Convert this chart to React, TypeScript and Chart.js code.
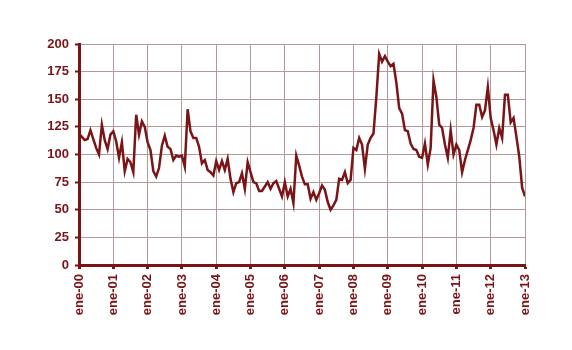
import React, { useEffect, useRef } from "react";
import { Chart, registerables } from "chart.js";

Chart.register(...registerables);

const yearLabels = [
  "ene-00", "ene-01", "ene-02", "ene-03", "ene-04", "ene-05", "ene-06",
  "ene-07", "ene-08", "ene-09", "ene-10", "ene-11", "ene-12", "ene-13",
];

const y2000 = [119, 116, 113, 114, 122, 114, 106, 100, 127, 113, 105, 118];
const y2001 = [121, 112, 97, 111, 85, 96, 93, 84, 136, 118, 130, 125];
const y2002 = [111, 104, 85, 80, 88, 108, 117, 107, 105, 95, 99, 98];
const y2003 = [99, 89, 141, 121, 115, 115, 107, 92, 95, 86, 84, 81];
const y2004 = [94, 86, 94, 86, 96, 78, 66, 74, 75, 83, 69, 93];
const y2005 = [84, 75, 74, 67, 67, 71, 75, 69, 74, 76, 69, 62];
const y2006 = [75, 62, 69, 56, 99, 90, 80, 73, 73, 60, 66, 59];
const y2007 = [65, 72, 68, 57, 50, 54, 59, 78, 77, 84, 74, 77];
const y2008 = [106, 104, 115, 109, 87, 109, 115, 119, 152, 191, 184, 189];
const y2009 = [184, 180, 182, 165, 142, 137, 122, 121, 110, 105, 104, 98];
const y2010 = [97, 110, 91, 106, 167, 152, 127, 124, 109, 97, 122, 100];
const y2011 = [109, 104, 84, 95, 104, 113, 124, 145, 145, 134, 140, 161];
const y2012 = [133, 122, 109, 124, 115, 154, 154, 129, 133, 116, 98, 70];
const y2013 = [62];

const values = [
  ...y2000, ...y2001, ...y2002, ...y2003, ...y2004, ...y2005, ...y2006,
  ...y2007, ...y2008, ...y2009, ...y2010, ...y2011, ...y2012, ...y2013,
];

const DARK = "#7a1416";
const GRID = "#b39a9a";

export default function App() {
  const ref = useRef<HTMLCanvasElement | null>(null);

  useEffect(() => {
    document.body.style.margin = "0";
    if (!ref.current) return;
    const chart = new Chart(ref.current, {
      type: "line",
      data: {
        datasets: [
          {
            data: values.map((v, i) => ({ x: i, y: v })),
            borderColor: DARK,
            borderWidth: 2.5,
            pointRadius: 0,
            tension: 0,
            fill: false,
          },
        ],
      },
      options: {
        animation: false,
        responsive: false,
        maintainAspectRatio: false,
        layout: { padding: { left: 0, right: 47, top: 44, bottom: 0 } },
        plugins: { legend: { display: false }, tooltip: { enabled: false } },
        scales: {
          x: {
            type: "linear",
            min: 0,
            max: (yearLabels.length - 1) * 12,
            afterFit: (s: any) => {
              s.height = 85;
            },
            afterBuildTicks: (s: any) => {
              s.ticks = yearLabels.map((_, i) => ({ value: i * 12 }));
            },
            ticks: {
              autoSkip: false,
              minRotation: 90,
              maxRotation: 90,
              padding: 5,
              color: DARK,
              font: { family: "Liberation Sans, Arial, sans-serif", size: 13, weight: "bold" },
              callback: (v: any) => yearLabels[Math.round(Number(v) / 12)] ?? "",
            },
            grid: {
              color: GRID,
              lineWidth: 1,
              tickLength: 4,
              tickColor: DARK,
              tickWidth: 3,
            },
            border: { color: DARK, width: 3 },
          },
          y: {
            min: 0,
            max: 200,
            afterFit: (s: any) => {
              s.width = 79;
            },
            ticks: {
              stepSize: 25,
              padding: 6,
              color: DARK,
              font: { family: "Liberation Sans, Arial, sans-serif", size: 13, weight: "bold" },
            },
            grid: {
              color: GRID,
              lineWidth: 1,
              tickLength: 4,
              tickColor: DARK,
              tickWidth: 2,
            },
            border: { color: DARK, width: 3 },
          },
        },
      },
    });
    return () => chart.destroy();
  }, []);

  return (
    <div style={{ width: 572, height: 350, background: "#ffffff" }}>
      <canvas ref={ref} width={572} height={350} style={{ display: "block" }} />
    </div>
  );
}
